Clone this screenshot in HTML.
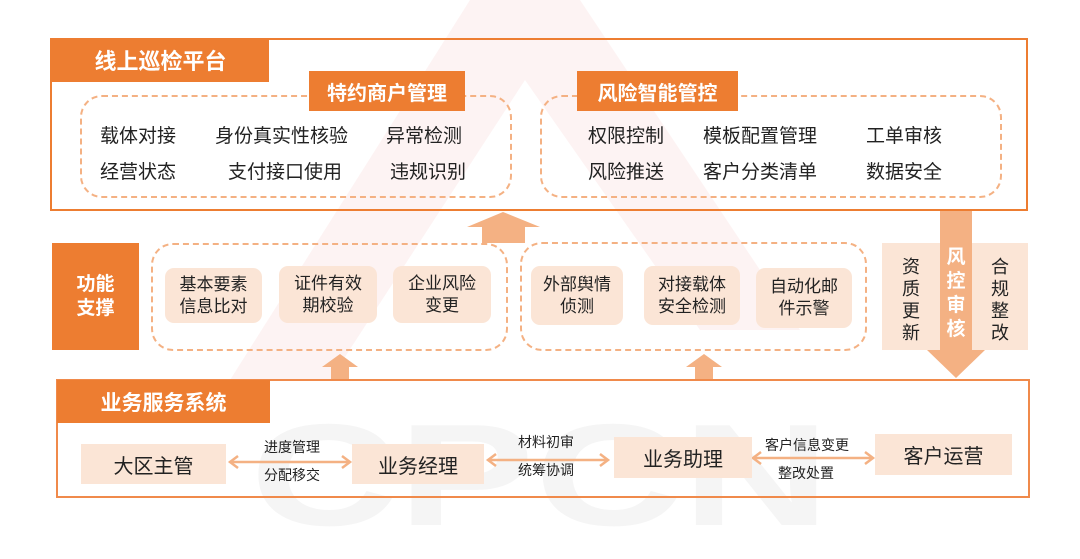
<!DOCTYPE html>
<html style="width:1080px;height:559px;overflow:hidden"><head><meta charset="utf-8"><style>
*{margin:0;padding:0;box-sizing:border-box}
body{width:1080px;height:559px;background:#fff;position:relative;overflow:hidden;font-family:"Liberation Sans","Noto Sans CJK SC",sans-serif;color:#222}
.a{position:absolute}
.tab{position:absolute;background:#ED7D31;color:#fff;font-weight:bold;display:flex;align-items:center;justify-content:center}
.dash{position:absolute;border:2px dashed #F4B183;border-radius:22px}
.card{position:absolute;background:#FBE5D6;border-radius:9px;display:flex;align-items:center;justify-content:center;text-align:center;font-size:17px;line-height:22px}
.node{position:absolute;background:#FBE5D6;display:flex;align-items:center;justify-content:center;font-size:20px}
.t{position:absolute;font-size:19px;line-height:24px;white-space:nowrap}
.s{position:absolute;font-size:14px;line-height:18px;white-space:nowrap}
.v{position:absolute;font-size:18px;line-height:22px;width:20px;text-align:center}
</style></head><body>
<svg class="a" style="left:0;top:0;display:block" width="1080" height="559">
<polygon points="470,0 580,0 800,330 700,330 525,80 330,380 230,380" fill="#FDF3F3"/>
<text x="250" y="525" font-family="Liberation Sans" font-weight="bold" font-size="145" fill="#F5F5F5" textLength="580" lengthAdjust="spacingAndGlyphs">CPCN</text>
</svg>
<div class="a" style="left:50px;top:38px;width:978px;height:173px;border:2px solid #ED7D31"></div>
<div class="tab" style="left:52px;top:38px;width:217px;height:44px;font-size:22px">线上巡检平台</div>
<div class="dash" style="left:80px;top:95px;width:432px;height:103px"></div>
<div class="tab" style="left:309px;top:71px;width:156px;height:40px;font-size:20px">特约商户管理</div>
<div class="dash" style="left:540px;top:95px;width:462px;height:103px"></div>
<div class="tab" style="left:577px;top:71px;width:161px;height:40px;font-size:20px">风险智能管控</div>
<div class="t" style="left:100px;top:125px">载体对接</div>
<div class="t" style="left:215px;top:125px">身份真实性核验</div>
<div class="t" style="left:386px;top:125px">异常检测</div>
<div class="t" style="left:100px;top:161px">经营状态</div>
<div class="t" style="left:228px;top:161px">支付接口使用</div>
<div class="t" style="left:390px;top:161px">违规识别</div>
<div class="t" style="left:588px;top:125px">权限控制</div>
<div class="t" style="left:703px;top:125px">模板配置管理</div>
<div class="t" style="left:866px;top:125px">工单审核</div>
<div class="t" style="left:588px;top:161px">风险推送</div>
<div class="t" style="left:703px;top:161px">客户分类清单</div>
<div class="t" style="left:866px;top:161px">数据安全</div>
<div class="tab" style="left:52px;top:243px;width:87px;height:107px;font-size:19px;line-height:24px;text-align:center">功能<br>支撑</div>
<div class="dash" style="left:151px;top:243px;width:357px;height:108px"></div>
<div class="card" style="left:165px;top:268px;width:97px;height:55px">基本要素<br>信息比对</div>
<div class="card" style="left:279px;top:266px;width:98px;height:57px">证件有效<br>期校验</div>
<div class="card" style="left:393px;top:266px;width:98px;height:57px">企业风险<br>变更</div>
<div class="dash" style="left:520px;top:242px;width:347px;height:109px"></div>
<div class="card" style="left:531px;top:266px;width:92px;height:59px">外部舆情<br>侦测</div>
<div class="card" style="left:644px;top:266px;width:96px;height:59px">对接载体<br>安全检测</div>
<div class="card" style="left:756px;top:268px;width:96px;height:60px">自动化邮<br>件示警</div>
<div class="a" style="left:882px;top:243px;width:146px;height:107px;background:#FBE5D6"></div>
<svg class="a" style="left:0;top:0;display:block" width="1080" height="559">
<polygon points="503,212 540,227 525,227 525,243 482,243 482,227 467,227" fill="#F4B183"/>
<polygon points="340,354 358,367 349,367 349,379 331,379 331,367 322,367" fill="#F4B183"/>
<polygon points="704,354 722,367 713,367 713,379 695,379 695,367 686,367" fill="#F4B183"/>
<polygon points="940,211 972,211 972,350 985,350 956,378 927,350 940,350" fill="#F4B183"/>
<g stroke="#F4B183" stroke-width="2.5" fill="none">
<line x1="230" y1="462" x2="350" y2="462"/><polyline points="238,456 230,462 238,468"/><polyline points="342,456 350,462 342,468"/>
<line x1="488" y1="460" x2="608" y2="460"/><polyline points="496,454 488,460 496,466"/><polyline points="600,454 608,460 600,466"/>
<line x1="753" y1="458" x2="873" y2="458"/><polyline points="761,452 753,458 761,464"/><polyline points="865,452 873,458 865,464"/>
</g>
</svg>
<div class="v" style="left:901px;top:256px">资<br>质<br>更<br>新</div>
<div class="v" style="left:946px;top:246px;color:#fff;font-weight:bold;font-size:19px;line-height:24px">风<br>控<br>审<br>核</div>
<div class="v" style="left:990px;top:256px">合<br>规<br>整<br>改</div>
<div class="a" style="left:56px;top:379px;width:974px;height:119px;border:2px solid #F08A4B"></div>
<div class="tab" style="left:57px;top:380px;width:213px;height:43px;font-size:21px">业务服务系统</div>
<div class="node" style="left:81px;top:444px;width:145px;height:40px">大区主管</div>
<div class="node" style="left:352px;top:444px;width:132px;height:40px">业务经理</div>
<div class="node" style="left:614px;top:437px;width:138px;height:41px">业务助理</div>
<div class="node" style="left:875px;top:434px;width:137px;height:41px">客户运营</div>
<div class="s" style="left:264px;top:438px">进度管理</div>
<div class="s" style="left:264px;top:466px">分配移交</div>
<div class="s" style="left:518px;top:433px">材料初审</div>
<div class="s" style="left:518px;top:461px">统筹协调</div>
<div class="s" style="left:765px;top:436px">客户信息变更</div>
<div class="s" style="left:778px;top:464px">整改处置</div>
</body></html>
